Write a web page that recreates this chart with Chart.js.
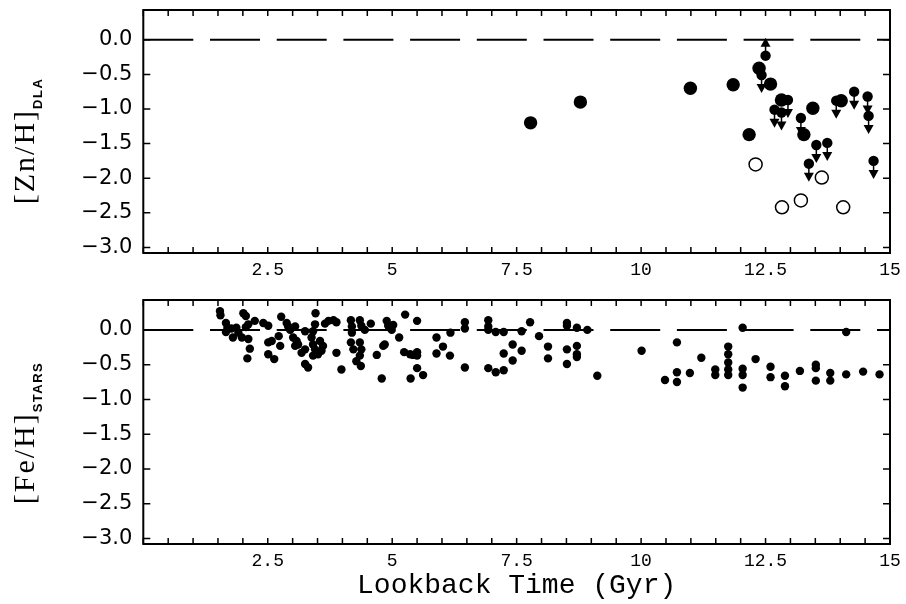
<!DOCTYPE html>
<html><head><meta charset="utf-8">
<script src="https://cdn.jsdelivr.net/npm/chart.js@4"></script>
<style>
html,body{margin:0;padding:0;background:#fff;}
#wrap{position:relative;width:906px;height:604px;overflow:hidden;background:#fff;}
canvas{position:absolute;left:0;}
.ytitle{position:absolute;transform:translate(-50%,-50%) rotate(-90deg);white-space:nowrap;font-family:"Liberation Serif",serif;font-size:30px;letter-spacing:2px;color:#000;line-height:1;}
.ytitle sub{font-family:"Liberation Sans",sans-serif;font-weight:bold;font-size:13px;letter-spacing:1.5px;vertical-align:-8px;}
</style></head>
<body><div id="wrap">
<canvas id="topChart" width="906" height="290" style="top:0"></canvas>
<canvas id="botChart" width="906" height="314" style="top:290px"></canvas>
<div class="ytitle" style="left:26px;top:141px">[Zn/H]<sub>DLA</sub></div>
<div class="ytitle" style="left:26px;top:433px">[Fe/H]<sub>STARS</sub></div>
</div>
<script>
// ---- tick labels ----
const xTickValues = [2.5, 5, 7.5, 10, 12.5, 15];
const yTickValues = [0, -0.5, -1, -1.5, -2, -2.5, -3];
const xTitle = "Lookback Time (Gyr)";

// ---- reference (solar) line ----
const zeroLineX = [0, 15];
const zeroLineY = [0, 0];

// ---- DLA [Zn/H]: detections ----
const dlaDetTime = [7.78, 8.78, 10.99, 11.85, 12.17, 12.37, 12.60, 12.82, 13.27, 13.45, 14.02];
const dlaDetZn   = [-1.20, -0.90, -0.70, -0.65, -1.37, -0.41, -0.64, -0.87, -1.37, -0.99, -0.88];

// ---- DLA [Zn/H]: upper limits ----
const dlaUpperTime = [12.42, 12.68, 12.82, 12.95, 13.21, 13.37, 13.52, 13.74, 13.92, 14.28, 14.55, 14.57, 14.67];
const dlaUpperZn   = [-0.51, -1.01, -1.05, -0.87, -1.13, -1.79, -1.52, -1.49, -0.88, -0.75, -0.82, -1.10, -1.75];

// ---- DLA [Zn/H]: lower limit ----
const dlaLowerTime = [12.50];
const dlaLowerZn   = [-0.23];

// ---- DLA open circles ----
const dlaOpenTime = [12.30, 12.83, 13.21, 13.63, 14.06];
const dlaOpenZn   = [-1.80, -2.42, -2.32, -1.99, -2.42];

// ---- Stars [Fe/H] ----
const starAge = [
 1.54,1.55,1.66,1.69,1.66,1.77,1.80,1.87,1.91,1.98,2.01,2.06,2.11,2.06,2.11,2.14,2.09,2.24,2.41,2.51,2.51,2.58,2.51,2.63,
 2.77,2.72,2.75,2.88,2.91,2.95,3.05,3.01,3.08,3.11,3.05,3.25,3.25,3.18,3.25,3.31,3.46,3.45,3.41,3.38,3.41,3.45,3.41,3.55,3.61,3.58,3.51,
 3.65,3.72,3.82,3.88,3.88,3.98,4.17,4.19,4.19,4.17,4.22,4.35,4.38,4.45,4.35,4.38,4.35,4.28,4.37,4.57,4.69,4.79,4.82,4.85,4.89,4.92,4.99,5.02,
 5.14,5.26,5.24,5.36,5.42,5.50,5.50,5.50,5.50,5.37,5.62,5.89,6.02,5.89,6.16,6.17,6.46,6.46,6.46,
 6.93,6.93,6.93,6.93,7.08,7.24,7.08,7.24,7.24,7.42,7.42,7.60,7.60,7.77,7.95,8.13,8.13,8.51,8.51,8.71,8.92,8.51,8.71,8.71,8.71,8.51,9.12,
 10.01,10.48,10.72,10.72,10.72,10.98,11.21,11.49,11.49,11.75,11.75,11.75,11.75,11.75,12.04,12.04,12.04,12.04,12.30,12.60,12.60,12.89,12.89,13.19,13.51,13.51,13.51,13.80,13.80,14.12,14.12,14.46,14.79
];
const starFeH = [
 0.27,0.21,0.10,0.03,-0.03,0.02,-0.11,0.03,-0.04,-0.11,0.24,0.20,0.08,0.04,-0.13,-0.27,-0.41,0.13,0.10,0.06,-0.18,-0.16,-0.35,-0.42,
 0.19,-0.09,-0.23,0.10,0.05,0.00,0.05,-0.11,-0.16,-0.21,-0.23,-0.02,-0.28,-0.33,-0.49,-0.54,0.24,0.08,-0.02,-0.11,-0.21,-0.28,-0.37,-0.16,-0.23,-0.30,-0.35,
 0.09,0.13,0.14,0.11,-0.33,-0.57,0.14,0.05,-0.04,-0.18,-0.28,0.14,0.06,0.00,-0.18,-0.28,-0.37,-0.45,-0.52,0.09,-0.36,-0.70,-0.23,-0.21,0.13,0.06,0.00,0.07,
 -0.11,0.22,-0.32,-0.35,-0.36,0.13,-0.32,-0.37,-0.55,-0.70,-0.65,-0.11,-0.24,-0.34,-0.37,-0.04,0.11,0.02,-0.54,
 0.14,0.05,0.00,-0.55,-0.03,-0.03,-0.61,-0.58,-0.34,-0.21,-0.44,-0.02,-0.30,0.11,-0.09,-0.24,-0.41,0.10,0.06,0.03,0.00,-0.28,-0.23,-0.35,-0.39,-0.49,-0.66,
 -0.30,-0.72,-0.18,-0.61,-0.75,-0.62,-0.40,-0.57,-0.65,-0.24,-0.35,-0.47,-0.57,-0.65,0.03,-0.56,-0.65,-0.83,-0.42,-0.53,-0.68,-0.66,-0.81,-0.59,-0.50,-0.55,-0.73,-0.62,-0.73,-0.03,-0.64,-0.60,-0.64
];

const pts = (xs, ys) => xs.map((x, i) => ({x: x, y: ys[i]}));
const near = (arr, v) => arr.some(t => Math.abs(t - v) < 1e-6);
const isHalf = v => Math.abs(v * 2 - Math.round(v * 2)) < 1e-6;

const framePlugin = {
  id: 'frame',
  afterDraw(chart) {
    const {ctx, chartArea: a, scales: {x, y}} = chart;
    ctx.save();
    ctx.strokeStyle = '#000';
    ctx.lineWidth = 1.5;
    ctx.beginPath();
    x.ticks.forEach(t => {
      if (!isHalf(t.value)) return;
      const px = x.getPixelForValue(t.value);
      ctx.moveTo(px, a.bottom); ctx.lineTo(px, a.bottom - 6);
      ctx.moveTo(px, a.top); ctx.lineTo(px, a.top + 6);
    });
    y.ticks.forEach(t => {
      if (!isHalf(t.value)) return;
      const py = y.getPixelForValue(t.value);
      ctx.moveTo(a.left, py); ctx.lineTo(a.left + 7, py);
      ctx.moveTo(a.right, py); ctx.lineTo(a.right - 7, py);
    });
    ctx.stroke();
    ctx.lineWidth = 2;
    ctx.strokeRect(a.left, a.top, a.right - a.left, a.bottom - a.top);
    ctx.restore();
  }
};

const arrowPlugin = {
  id: 'arrows',
  afterDatasetsDraw(chart) {
    const ctx = chart.ctx;
    chart.data.datasets.forEach((ds, i) => {
      if (!ds.arrow) return;
      const d = ds.arrow === 'up' ? -1 : 1;
      chart.getDatasetMeta(i).data.forEach(pt => {
        const px = pt.x, py = pt.y;
        ctx.save();
        ctx.strokeStyle = '#000'; ctx.fillStyle = '#000'; ctx.lineWidth = 1.5;
        ctx.beginPath(); ctx.moveTo(px, py); ctx.lineTo(px, py + d * 10); ctx.stroke();
        ctx.beginPath();
        ctx.moveTo(px - 5, py + d * 9); ctx.lineTo(px + 5, py + d * 9); ctx.lineTo(px, py + d * 18);
        ctx.closePath(); ctx.fill();
        ctx.restore();
      });
    });
  }
};

function zeroLine() {
  return {type: 'line', data: pts(zeroLineX, zeroLineY), borderColor: '#000', borderWidth: 2,
    borderDash: [50, 16.7], pointRadius: 0, fill: false, order: 10};
}

function makeOptions(xAxisHeight, showTitle, padTop, padRight) {
  return {
    responsive: false, animation: false,
    layout: {padding: {left: 0, right: padRight, top: padTop, bottom: 0}},
    plugins: {legend: {display: false}, tooltip: {enabled: false}},
    scales: {
      x: {
        type: 'linear', min: 0, max: 15,
        grid: {display: false, drawTicks: false}, border: {display: false},
        ticks: {
          stepSize: 0.5, autoSkip: false, maxRotation: 0, includeBounds: false, padding: 6,
          color: '#000', font: {family: '"Liberation Mono", monospace', size: 18},
          callback: v => near(xTickValues, v) ? (Number.isInteger(v) ? String(v) : v.toFixed(1)) : ''
        },
        title: {display: showTitle, text: xTitle, color: '#000',
          font: {family: '"Liberation Mono", monospace', size: 28}, padding: {top: 0, bottom: 2}},
        afterFit: s => { s.height = xAxisHeight; s.paddingLeft = 0; s.paddingRight = 0; }
      },
      y: {
        type: 'linear', min: -3.08, max: 0.43,
        grid: {display: false, drawTicks: false}, border: {display: false},
        ticks: {
          stepSize: 0.5, includeBounds: false, autoSkip: false, padding: 11,
          color: '#000', font: {family: '"DejaVu Sans", sans-serif', size: 21},
          callback: v => near(yTickValues, v) ? (Math.abs(v) < 1e-9 ? '0.0' : '\u2212' + Math.abs(v).toFixed(1)) : ''
        },
        afterFit: s => { s.width = 143.3; s.paddingTop = 0; s.paddingBottom = 0; }
      }
    }
  };
}

new Chart(document.getElementById('topChart'), {
  type: 'scatter',
  data: {datasets: [
    zeroLine(),
    {data: pts(dlaDetTime, dlaDetZn), pointRadius: 6.7, backgroundColor: '#000', borderWidth: 0},
    {data: pts(dlaUpperTime, dlaUpperZn), pointRadius: 5.2, backgroundColor: '#000', borderWidth: 0, arrow: 'down'},
    {data: pts(dlaLowerTime, dlaLowerZn), pointRadius: 5.2, backgroundColor: '#000', borderWidth: 0, arrow: 'up'},
    {data: pts(dlaOpenTime, dlaOpenZn), pointRadius: 6.5, backgroundColor: '#fff', borderColor: '#000', borderWidth: 1.5}
  ]},
  options: makeOptions(37, false, 10, 16),
  plugins: [arrowPlugin, framePlugin]
});

new Chart(document.getElementById('botChart'), {
  type: 'scatter',
  data: {datasets: [
    zeroLine(),
    {data: pts(starAge, starFeH), pointRadius: 4.2, backgroundColor: '#000', borderWidth: 0}
  ]},
  options: makeOptions(60, true, 10, 16),
  plugins: [framePlugin]
});
</script>
</body></html>
